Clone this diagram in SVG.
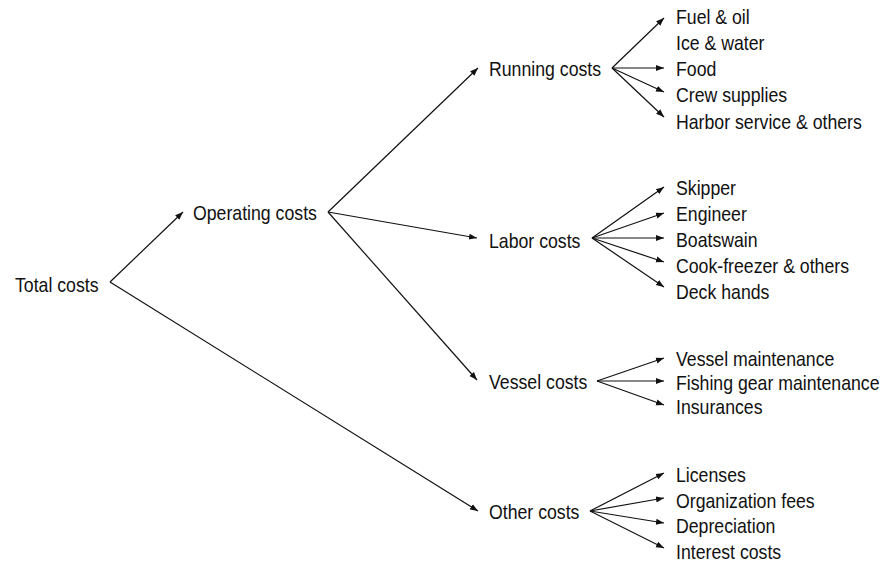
<svg xmlns="http://www.w3.org/2000/svg" width="882" height="563" viewBox="0 0 882 563">
<style>
text{font-family:"Liberation Sans",Arial,sans-serif;font-size:20px;fill:#111}
.c line{stroke:#111;stroke-width:1.2;marker-end:url(#ah)}
</style>
<defs>
<marker id="ah" viewBox="0 0 10 10" refX="10" refY="5" markerWidth="8" markerHeight="8" markerUnits="userSpaceOnUse" orient="auto"><path d="M0,1.2 L10,5 L0,8.8 z" fill="#111"/></marker>
</defs>
<rect width="882" height="563" fill="#fff"/>
<g class="c" id="connectors">
<line x1="110" y1="282" x2="183" y2="212"/>
<line x1="110" y1="282" x2="478" y2="511"/>
<line x1="328" y1="212" x2="478" y2="68"/>
<line x1="328" y1="212" x2="477" y2="238"/>
<line x1="328" y1="212" x2="477" y2="380"/>
<line x1="612" y1="68" x2="664" y2="18"/>
<line x1="612" y1="68" x2="664" y2="68"/>
<line x1="612" y1="68" x2="664" y2="92"/>
<line x1="612" y1="68" x2="664" y2="117"/>
<line x1="592" y1="238" x2="664" y2="187"/>
<line x1="592" y1="238" x2="664" y2="213"/>
<line x1="592" y1="238" x2="664" y2="238"/>
<line x1="592" y1="238" x2="664" y2="262"/>
<line x1="592" y1="238" x2="664" y2="287"/>
<line x1="597" y1="381" x2="664" y2="358"/>
<line x1="597" y1="381" x2="664" y2="381"/>
<line x1="597" y1="381" x2="664" y2="405"/>
<line x1="590" y1="511" x2="664" y2="473"/>
<line x1="590" y1="511" x2="664" y2="498"/>
<line x1="590" y1="511" x2="664" y2="523"/>
<line x1="590" y1="511" x2="664" y2="548"/>
</g>
<g id="total"><text transform="scale(0.885 1)" x="16.95" y="292">Total costs</text></g>
<g id="operating"><text transform="scale(0.885 1)" x="218.08" y="220">Operating costs</text></g>
<g id="running"><text transform="scale(0.885 1)" x="552.54" y="76">Running costs</text></g>
<g id="labor"><text transform="scale(0.885 1)" x="552.54" y="248">Labor costs</text></g>
<g id="vessel"><text transform="scale(0.885 1)" x="552.54" y="389">Vessel costs</text></g>
<g id="other"><text transform="scale(0.885 1)" x="552.54" y="519">Other costs</text></g>
<g id="fuel"><text transform="scale(0.885 1)" x="763.84" y="24">Fuel &amp; oil</text></g>
<g id="ice"><text transform="scale(0.885 1)" x="763.84" y="50">Ice &amp; water</text></g>
<g id="food"><text transform="scale(0.885 1)" x="763.84" y="76">Food</text></g>
<g id="crew"><text transform="scale(0.885 1)" x="763.84" y="102.5">Crew supplies</text></g>
<g id="harbor"><text transform="scale(0.885 1)" x="763.84" y="129">Harbor service &amp; others</text></g>
<g id="skipper"><text transform="scale(0.885 1)" x="763.84" y="195">Skipper</text></g>
<g id="engineer"><text transform="scale(0.885 1)" x="763.84" y="221">Engineer</text></g>
<g id="boatswain"><text transform="scale(0.885 1)" x="763.84" y="247">Boatswain</text></g>
<g id="cook"><text transform="scale(0.885 1)" x="763.84" y="273">Cook-freezer &amp; others</text></g>
<g id="deck"><text transform="scale(0.885 1)" x="763.84" y="299">Deck hands</text></g>
<g id="vmaint"><text transform="scale(0.885 1)" x="763.84" y="366">Vessel maintenance</text></g>
<g id="fishing"><text transform="scale(0.885 1)" x="763.84" y="390">Fishing gear maintenance</text></g>
<g id="insurances"><text transform="scale(0.885 1)" x="763.84" y="414">Insurances</text></g>
<g id="licenses"><text transform="scale(0.885 1)" x="763.84" y="482">Licenses</text></g>
<g id="org"><text transform="scale(0.885 1)" x="763.84" y="508">Organization fees</text></g>
<g id="depr"><text transform="scale(0.885 1)" x="763.84" y="533">Depreciation</text></g>
<g id="interest"><text transform="scale(0.885 1)" x="763.84" y="559">Interest costs</text></g>
</svg>
